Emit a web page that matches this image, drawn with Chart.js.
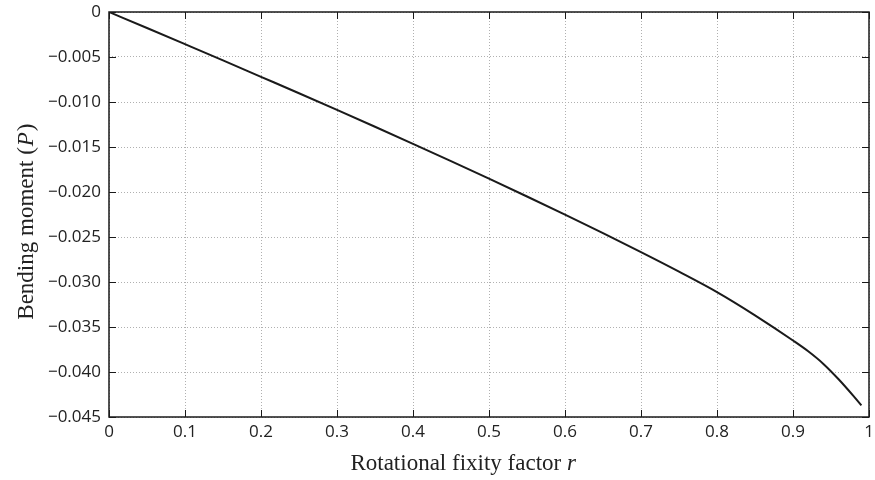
<!DOCTYPE html>
<html>
<head>
<meta charset="utf-8">
<script src="https://cdn.jsdelivr.net/npm/chart.js@4/dist/chart.umd.min.js"></script>
<style>
  html, body { margin: 0; padding: 0; background: #fff; }
  #wrap { width: 875px; height: 480px; position: relative; }
</style>
</head>
<body>
<div id="wrap"><canvas id="c" width="875" height="480"></canvas></div>
<script>
// Data
const fixityFactor = [0, 0.05, 0.1, 0.15, 0.2, 0.25, 0.3, 0.35, 0.4, 0.45, 0.5, 0.55, 0.6, 0.65, 0.7, 0.75, 0.8, 0.85, 0.9, 0.92, 0.94, 0.96, 0.98, 0.99];
const bendingMoment = [0, -0.00178, -0.00357, -0.00537, -0.00720, -0.00903, -0.01088, -0.01275, -0.01465, -0.01657, -0.01852, -0.02050, -0.02252, -0.02458, -0.02668, -0.02885, -0.03112, -0.03370, -0.03650, -0.03770, -0.03910, -0.04080, -0.04270, -0.04370];
const xTickValues = [0, 0.1, 0.2, 0.3, 0.4, 0.5, 0.6, 0.7, 0.8, 0.9, 1];
const yTickValues = [0, -0.005, -0.010, -0.015, -0.020, -0.025, -0.030, -0.035, -0.040, -0.045];
const xTitleMain = 'Rotational fixity factor ';
const xTitleItalic = 'r';
const yTitleMain = 'Bending moment (';
const yTitleItalic = 'P';
const yTitleEnd = ')';

const points = fixityFactor.map((x, i) => ({ x: x, y: bendingMoment[i] }));

const tickFont = '"Open Sans", sans-serif';
const titleFont = '"Liberation Serif", serif';

const boxPlugin = {
  id: 'box',
  afterDraw(chart) {
    const ctx = chart.ctx;
    const a = chart.chartArea;
    const xs = chart.scales.x, ys = chart.scales.y;
    ctx.save();
    ctx.strokeStyle = '#1a1a1a';
    ctx.lineWidth = 1.5;
    ctx.strokeRect(a.left, a.top, a.right - a.left, a.bottom - a.top);
    ctx.lineWidth = 1;
    const tl = 7;
    ctx.beginPath();
    xTickValues.forEach(v => {
      const px = Math.round(xs.getPixelForValue(v)) + 0.5;
      ctx.moveTo(px, a.bottom); ctx.lineTo(px, a.bottom - tl);
      ctx.moveTo(px, a.top); ctx.lineTo(px, a.top + tl);
    });
    yTickValues.forEach(v => {
      const py = Math.round(ys.getPixelForValue(v)) + 0.5;
      ctx.moveTo(a.left, py); ctx.lineTo(a.left + tl, py);
      ctx.moveTo(a.right, py); ctx.lineTo(a.right - tl, py);
    });
    ctx.stroke();

    // axis titles with italic variables
    ctx.fillStyle = '#222';
    ctx.textBaseline = 'alphabetic';
    const size = 23;
    const fN = size + 'px ' + titleFont;
    const fI = 'italic ' + size + 'px ' + titleFont;
    ctx.font = fN; const w1 = ctx.measureText(xTitleMain).width;
    ctx.font = fI; const w2 = ctx.measureText(xTitleItalic).width;
    const cx = a.left + (a.right - a.left) * 0.466;
    let sx = cx - (w1 + w2) / 2;
    const by = 470;
    ctx.font = fN; ctx.textAlign = 'left'; ctx.fillText(xTitleMain, sx, by);
    ctx.font = fI; ctx.fillText(xTitleItalic, sx + w1, by);

    ctx.save();
    const cy = a.top + (a.bottom - a.top) * 0.52;
    ctx.translate(33, cy);
    ctx.rotate(-Math.PI / 2);
    ctx.font = fN; const v1 = ctx.measureText(yTitleMain).width;
    ctx.font = fI; const v2 = ctx.measureText(yTitleItalic).width;
    ctx.font = fN; const v3 = ctx.measureText(yTitleEnd).width;
    let s = -(v1 + v2 + v3) / 2;
    ctx.font = fN; ctx.fillText(yTitleMain, s, 0);
    ctx.font = fI; ctx.fillText(yTitleItalic, s + v1 + 1, 0);
    ctx.font = fN; ctx.fillText(yTitleEnd, s + v1 + v2 + 2, 0);
    ctx.restore();
    ctx.restore();
  }
};

new Chart(document.getElementById('c'), {
  type: 'line',
  data: {
    datasets: [{
      data: points,
      borderColor: '#1a1a1a',
      borderWidth: 2,
      pointRadius: 0,
      fill: false,
      cubicInterpolationMode: 'monotone'
    }]
  },
  options: {
    responsive: false,
    animation: false,
    events: [],
    layout: { padding: { top: 12, right: 6, left: 0, bottom: 0 } },
    plugins: { legend: { display: false }, tooltip: { enabled: false } },
    scales: {
      x: {
        type: 'linear',
        min: 0, max: 1,
        afterBuildTicks(scale) { scale.ticks = xTickValues.map(v => ({ value: v })); },
        afterFit(scale) { scale.height = 63; scale.paddingLeft = 0; scale.paddingRight = 0; },
        ticks: {
          color: '#222',
          font: { family: tickFont, size: 17 },
          padding: 5,
          maxRotation: 0,
          callback: v => String(Number(v.toFixed(1)))
        },
        grid: { color: '#b0b0b0', lineWidth: 1, drawTicks: false, tickLength: 0 },
        border: { display: false, dash: [1, 2] }
      },
      y: {
        type: 'linear',
        min: -0.045, max: 0,
        afterBuildTicks(scale) { scale.ticks = yTickValues.map(v => ({ value: v })); },
        afterFit(scale) { scale.width = 109; scale.paddingTop = 0; scale.paddingBottom = 0; },
        ticks: {
          color: '#222',
          font: { family: tickFont, size: 17 },
          padding: 8,
          callback: v => (Math.abs(v) < 1e-9 ? '0' : '\u2212' + Math.abs(v).toFixed(3))
        },
        grid: { color: '#b0b0b0', lineWidth: 1, drawTicks: false, tickLength: 0 },
        border: { display: false, dash: [1, 2] }
      }
    }
  },
  plugins: [boxPlugin]
});
</script>
</body>
</html>
